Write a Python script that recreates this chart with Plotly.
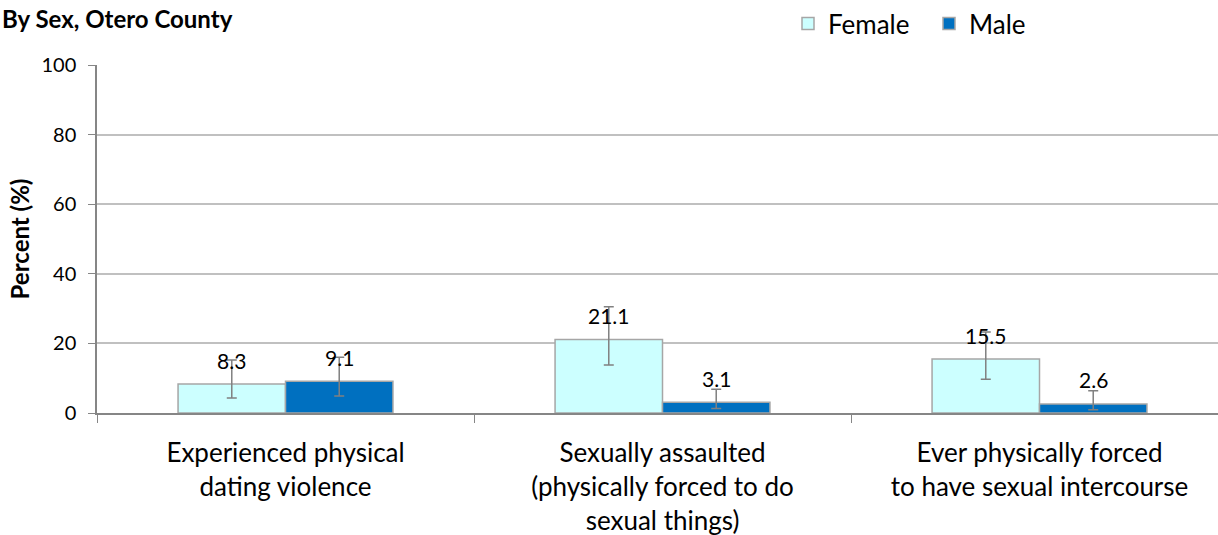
import plotly.graph_objects as go

categories = [
    "Experienced physical<br>dating violence",
    "Sexually assaulted<br>(physically forced to do<br>sexual things)",
    "Ever physically forced<br>to have sexual intercourse",
]
female_values = [8.3, 21.1, 15.5]
female_upper = [15.2, 30.5, 23.3]
female_lower = [4.3, 13.8, 9.7]
male_values = [9.1, 3.1, 2.6]
male_upper = [16.0, 6.8, 6.4]
male_lower = [4.9, 1.3, 0.9]
y_ticks = [0, 20, 40, 60, 80, 100]

FONT = "Lato"
W, H = 1218, 535
L, R, T, B = 97, 0, 64, 122

def err(vals, up, lo):
    return dict(
        type="data", symmetric=False,
        array=[u - v for u, v in zip(up, vals)],
        arrayminus=[v - l for l, v in zip(lo, vals)],
        color="#808080", thickness=1.5, width=5,
    )

fig = go.Figure()
fig.add_trace(go.Bar(
    name="Female", x=categories, y=female_values,
    marker=dict(color="#ccffff", line=dict(color="#a6a6a6", width=1.5)),
    error_y=err(female_values, female_upper, female_lower),
))
fig.add_trace(go.Bar(
    name="Male", x=categories, y=male_values,
    marker=dict(color="#0070c0", line=dict(color="#a6a6a6", width=1.5)),
    error_y=err(male_values, male_upper, male_lower),
))

# data labels
xrange = [-0.5, 2.5 - 10 / 377]
px_per_cat = (W - L - R) / (xrange[1] - xrange[0])
bargap = 0.43
bar_w = (1 - bargap) / 2 * px_per_cat
for cat, fv, mv in zip(categories, female_values, male_values):
    for v, sh in ((fv, -bar_w / 2), (mv, bar_w / 2)):
        fig.add_annotation(
            x=cat, y=v, text=f"{v:.1f}", showarrow=False,
            xshift=sh, yshift=24, font=dict(family=FONT, size=21, color="black"),
        )

PH = H - T - B
PW = W - L - R
fig.add_annotation(
    text="<b>By Sex, Otero County</b>", xref="paper", yref="paper",
    x=-L / PW, y=1 + (T - 1) / PH,
    xanchor="left", yanchor="top", showarrow=False,
    font=dict(family=FONT, size=24, color="black"),
)

fig.update_layout(
    width=W, height=H,
    margin=dict(l=L, r=R, t=T, b=B, pad=0),
    paper_bgcolor="white", plot_bgcolor="white",
    barmode="group", bargap=bargap, bargroupgap=0,
    font=dict(family=FONT, size=21, color="black"),
    legend=dict(
        orientation="h", x=(788 - L) / PW, xanchor="left",
        y=1 + (T - 22) / PH, yanchor="middle",
        font=dict(family=FONT, size=26, color="black"),
        entrywidth=96, entrywidthmode="pixels",
        bgcolor="rgba(0,0,0,0)",
    ),
    xaxis=dict(
        range=xrange, tickson="boundaries", ticks="outside", ticklen=8,
        tickcolor="#868686", showline=True, linecolor="#868686", linewidth=1.5,
        showgrid=False, ticklabelstandoff=16,
        tickfont=dict(family=FONT, size=26),
    ),
    yaxis=dict(
        range=[0, 100], tickvals=y_ticks, ticks="outside", ticklen=7,
        tickcolor="#868686", showline=True, linecolor="#868686", linewidth=1.5,
        showgrid=True, gridcolor="#c0c0c0", gridwidth=1.5, zeroline=False,
        tickfont=dict(family=FONT, size=20), ticklabelstandoff=8,
        title=dict(text="<b>Percent (%)</b>", font=dict(family=FONT, size=24), standoff=5),
    ),
)

fig.write_html("out.html", config={"displayModeBar": False},
               post_script="document.body.style.margin='0';")
